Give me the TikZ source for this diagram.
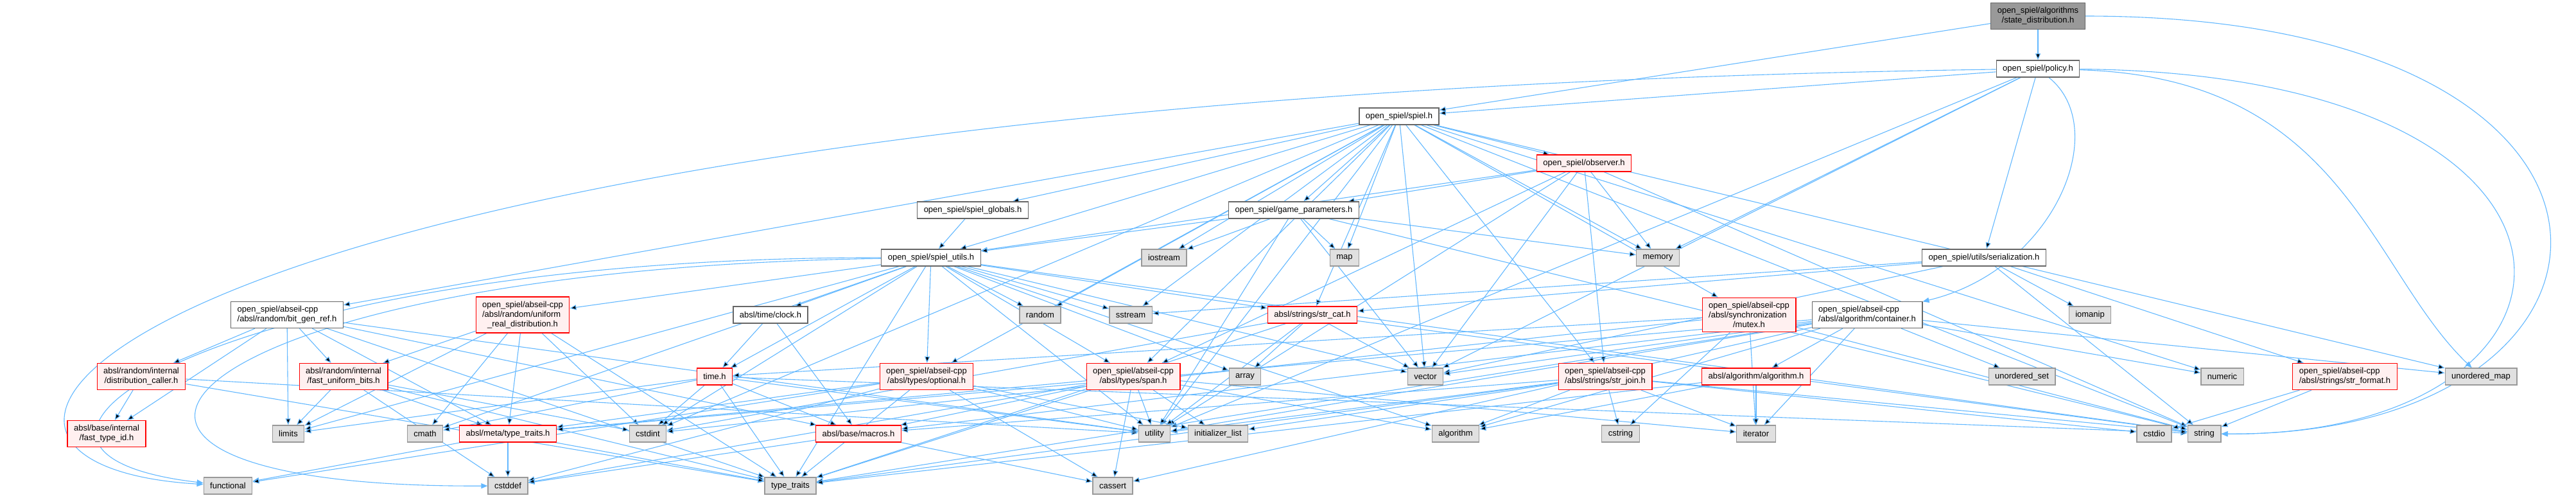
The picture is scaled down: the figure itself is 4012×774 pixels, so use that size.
\documentclass[tikz,border=0pt]{standalone}
\usepackage{fontspec}
\setmainfont{Liberation Sans}
\usepackage{tikz}
\usetikzlibrary{arrows.meta, positioning, backgrounds}
\definecolor{edgeblue}{RGB}{99, 184, 255}
\definecolor{stdfill}{RGB}{224, 224, 224}
\definecolor{stdline}{RGB}{153, 153, 153}
\definecolor{redfill}{RGB}{255, 240, 240}
\definecolor{redline}{RGB}{255, 0, 0}
\definecolor{hdrline}{RGB}{102, 102, 102}
\definecolor{rootfill}{RGB}{153, 153, 153}

\begin{document}
\begin{tikzpicture}[x=1pt, y=-1pt, font=\fontsize{13}{15}\selectfont,
    incl/.style={rectangle, draw=hdrline, fill=white, line width=1.2pt,
                 inner xsep=10pt, inner ysep=7pt, minimum height=26pt, align=left},
    sysinc/.style={incl, draw=stdline, fill=stdfill},
    trunc/.style={incl, draw=redline, fill=redfill},
    rootfile/.style={incl, draw=hdrline, fill=rootfill},
    arr/.style={-{Triangle[length=10pt,width=8pt]}, line width=1.1pt, draw=edgeblue}
]
\useasboundingbox (0,0) rectangle (4012,774);

% project headers
\node[rootfile] (sd)       at (3174,25)  {open\_spiel/algorithms\\\hfil/state\_distribution.h};
\node[incl] (policy)       at (3174,107) {open\_spiel/policy.h};
\node[incl] (spiel)        at (2179,181) {open\_spiel/spiel.h};
\node[trunc] (observer)    at (2467,254) {open\_spiel/observer.h};
\node[incl] (gp)           at (2015,327) {open\_spiel/game\_parameters.h};
\node[incl] (globals)      at (1515,327) {open\_spiel/spiel\_globals.h};
\node[incl] (utils)        at (1450,401) {open\_spiel/spiel\_utils.h};
\node[incl] (serial)       at (3090,401) {open\_spiel/utils/serialization.h};
\node[incl] (bitgen)       at (447,490)  {open\_spiel/abseil-cpp\\\hfil/absl/random/bit\_gen\_ref.h};
\node[trunc] (uniformreal) at (814,490)  {open\_spiel/abseil-cpp\\/absl/random/uniform\\\hfil\_real\_distribution.h};
\node[incl] (clock)        at (1200,490) {absl/time/clock.h};
\node[trunc] (strcat)      at (2044,490) {absl/strings/str\_cat.h};
\node[trunc] (mutex)       at (2724,490) {open\_spiel/abseil-cpp\\/absl/synchronization\\\hfil/mutex.h};
\node[incl] (container)    at (2908,490) {open\_spiel/abseil-cpp\\\hfil/absl/algorithm/container.h};
\node[trunc] (distcaller)  at (220,586)  {absl/random/internal\\\hfil/distribution\_caller.h};
\node[trunc] (fastbits)    at (535,586)  {absl/random/internal\\\hfil/fast\_uniform\_bits.h};
\node[trunc] (timeh)       at (1113,586) {time.h};
\node[trunc] (optional)    at (1443,586) {open\_spiel/abseil-cpp\\\hfil/absl/types/optional.h};
\node[trunc] (span)        at (1765,586) {open\_spiel/abseil-cpp\\\hfil/absl/types/span.h};
\node[trunc] (strjoin)     at (2500,586) {open\_spiel/abseil-cpp\\\hfil/absl/strings/str\_join.h};
\node[trunc] (algoalgo)    at (2735,586) {absl/algorithm/algorithm.h};
\node[trunc] (strformat)   at (3652,586) {open\_spiel/abseil-cpp\\\hfil/absl/strings/str\_format.h};
\node[trunc] (fasttypeid)  at (166,675)  {absl/base/internal\\\hfil/fast\_type\_id.h};
\node[trunc] (metatt)      at (791,675)  {absl/meta/type\_traits.h};
\node[trunc] (macros)      at (1337,675) {absl/base/macros.h};

% system headers
\node[sysinc] (iostream)   at (1813,401) {iostream};
\node[sysinc] (map)        at (2094,401) {map};
\node[sysinc] (memory)     at (2582,401) {memory};
\node[sysinc] (random)     at (1620,490) {random};
\node[sysinc] (sstream)    at (1761,490) {sstream};
\node[sysinc] (iomanip)    at (3255,490) {iomanip};
\node[sysinc] (array)      at (1939,586) {array};
\node[sysinc] (vector)     at (2220,586) {vector};
\node[sysinc] (uset)       at (3149,586) {unordered\_set};
\node[sysinc] (numeric)    at (3461,586) {numeric};
\node[sysinc] (umap)       at (3864,586) {unordered\_map};
\node[sysinc] (limits)     at (449,675)  {limits};
\node[sysinc] (cmath)      at (662,675)  {cmath};
\node[sysinc] (cstdint)    at (1009,675) {cstdint};
\node[sysinc] (utility)    at (1798,675) {utility};
\node[sysinc] (initlist)   at (1897,675) {initializer\_list};
\node[sysinc] (algorithm)  at (2267,675) {algorithm};
\node[sysinc] (cstring)    at (2524,675) {cstring};
\node[sysinc] (iterator)   at (2735,675) {iterator};
\node[sysinc] (cstdio)     at (3355,675) {cstdio};
\node[sysinc] (string)     at (3433,675) {string};
\node[sysinc] (functional) at (355,756)  {functional};
\node[sysinc] (cstddef)    at (791,756)  {cstddef};
\node[sysinc] (typetraits) at (1231,756) {type\_traits};
\node[sysinc] (cassert)    at (1733,756) {cassert};

\begin{scope}[on background layer]
% long detours
\draw[arr] (sd) .. controls (4200,25) and (4150,680) .. (string);
\draw[arr] (policy) .. controls (4120,115) and (4080,680) .. (string);
\draw[arr] (policy) .. controls (3650,120) and (3690,420) .. (umap);
\draw[arr] (policy) .. controls (3290,200) and (3200,420) .. (container);
\draw[arr] (policy) .. controls (200,150) and (-250,720) .. (functional);
\draw[arr] (utils) .. controls (350,400) and (-120,700) .. (functional);
\draw[arr] (utils) .. controls (250,420) and (-40,760) .. (cstddef);

\path[arr] (sd) edge (policy) edge (spiel);
\path[arr] (policy) edge (spiel) edge (vector) edge (memory) edge (serial) edge (utility);
\path[arr] (spiel) edge (bitgen) edge (globals) edge (utils) edge (gp) edge (observer)
    edge (map) edge (memory) edge (iostream) edge (random) edge (sstream) edge (optional)
    edge (span) edge (mutex) edge (strjoin) edge (vector) edge (string) edge (umap)
    edge (utility) edge (numeric) edge (cstdint) edge (strcat);
\path[arr] (observer) edge (gp) edge (utils) edge (span) edge (strjoin) edge (memory)
    edge (string) edge (utility) edge (vector);
\path[arr] (gp) edge (utils) edge (iostream) edge (map) edge (memory)
    edge (string) edge (utility) edge (vector);
\path[arr] (globals) edge (utils);
\path[arr] (serial) edge (sstream) edge (strcat) edge (iomanip) edge (strformat)
    edge (string) edge (vector);
\path[arr] (utils) edge (uniformreal) edge (clock) edge (timeh) edge (cmath) edge (cstdint)
    edge (random) edge (sstream) edge (optional) edge (span) edge (array) edge (strcat)
    edge (algorithm) edge (utility) edge (typetraits) edge (string) edge (vector)
    edge (limits);
\path[arr] (bitgen) edge (fasttypeid) edge (distcaller) edge (fastbits) edge (limits)
    edge (typetraits) edge (utility) edge (macros) edge (metatt);
\path[arr] (distcaller) edge (fasttypeid) edge (utility) edge (typetraits);
\path[arr] (fastbits) edge (limits) edge (cstddef) edge (cstdint) edge (typetraits) edge (metatt);
\path[arr] (uniformreal) edge (cmath) edge (cstdint) edge (limits) edge (typetraits)
    edge (metatt) edge (fastbits);
\path[arr] (clock) edge (timeh) edge (macros);
\path[arr] (timeh) edge (cmath) edge (cstdint) edge (limits) edge (string) edge (typetraits)
    edge (utility) edge (macros);
\path[arr] (metatt) edge (cstddef) edge (functional) edge (typetraits);
\path[arr] (macros) edge (cassert) edge (cstddef);
\path[arr] (optional) edge (cassert) edge (cstddef) edge (initlist) edge (typetraits)
    edge (utility) edge (metatt) edge (functional);
\path[arr] (span) edge (algorithm) edge (cassert) edge (cstddef) edge (initlist) edge (iterator)
    edge (typetraits) edge (utility) edge (macros) edge (metatt);
\path[arr] (strcat) edge (array) edge (cstdint) edge (string) edge (typetraits) edge (utility)
    edge (vector);
\path[arr] (strjoin) edge (cstring) edge (cstdio) edge (string) edge (iterator) edge (initlist)
    edge (utility) edge (typetraits) edge (macros) edge (algorithm);
\path[arr] (mutex) edge (timeh) edge (cstdint) edge (cstring) edge (iterator) edge (string);
\path[arr] (container) edge (algorithm) edge (cassert) edge (iterator) edge (numeric)
    edge (typetraits) edge (umap) edge (uset) edge (utility) edge (vector) edge (algoalgo)
    edge (macros) edge (metatt);
\path[arr] (algoalgo) edge (algorithm) edge (iterator) edge (typetraits);
\path[arr] (strformat) edge (cstdio) edge (string);
\end{scope}

\end{tikzpicture}
\end{document}
